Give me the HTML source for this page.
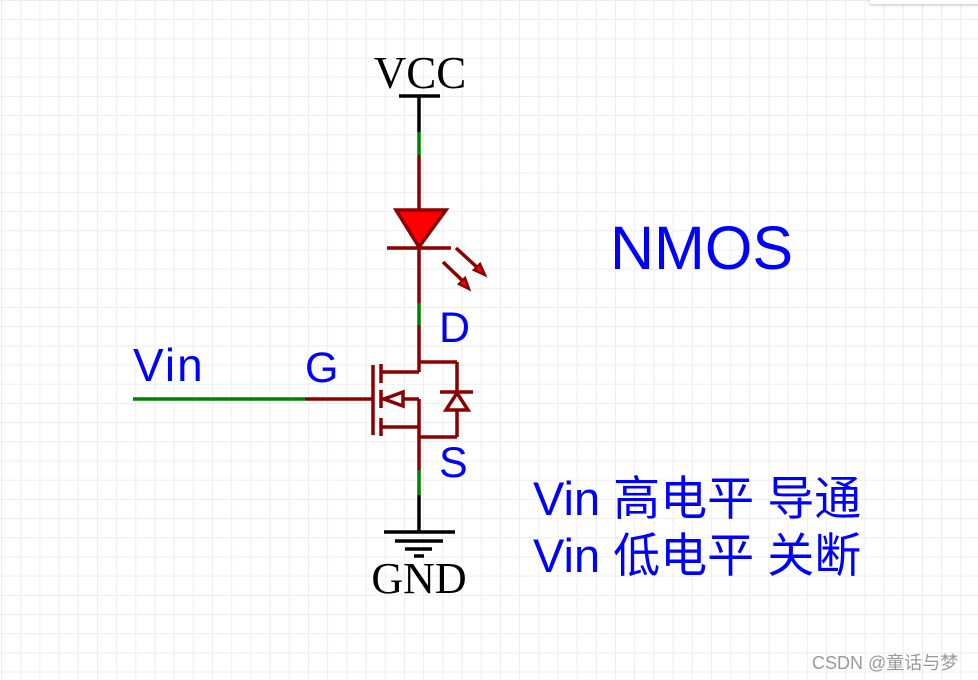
<!DOCTYPE html>
<html><head><meta charset="utf-8"><style>
html,body{margin:0;padding:0;}
body{width:978px;height:680px;overflow:hidden;position:relative;background:#fff;
background-image:linear-gradient(to right,#ededed 1px,transparent 1px),linear-gradient(to bottom,#ededed 1px,transparent 1px);
background-size:19.2px 19.2px;background-position:1px 0px;}
svg{position:absolute;left:0;top:0;}
</style></head><body>
<div style="position:absolute;left:870px;top:-4px;width:110px;height:8px;background:#fff;box-shadow:0 1px 3px rgba(0,0,0,0.25);"></div>
<svg width="978" height="680" viewBox="0 0 978 680">
<g stroke-width="3.5" fill="none" stroke-linecap="butt">
<line x1="399" y1="96" x2="440" y2="96" stroke="#000"/>
<line x1="419" y1="96" x2="419" y2="132" stroke="#000"/>
<line x1="419" y1="132" x2="419" y2="155" stroke="#008000"/>
<line x1="419" y1="155" x2="419" y2="303" stroke="#8b0000"/>
<line x1="419" y1="303" x2="419" y2="325" stroke="#008000"/>
<line x1="419" y1="325" x2="419" y2="372" stroke="#8b0000"/>
<polygon points="396,210 446,210 419,247" fill="#ff0000" stroke="#8b0000"/>
<line x1="387" y1="248" x2="451" y2="248" stroke="#8b0000"/>
<line x1="456" y1="248" x2="480" y2="270" stroke="#8b0000"/>
<polygon points="485,275 474,270 480,264" fill="#ff0000" stroke="#8b0000" stroke-width="2.5"/>
<line x1="443" y1="262" x2="465" y2="283" stroke="#8b0000"/>
<polygon points="469,289 459,284 465,278" fill="#ff0000" stroke="#8b0000" stroke-width="2.5"/>
<line x1="381" y1="372" x2="419" y2="372" stroke="#8b0000"/>
<line x1="419" y1="362" x2="457" y2="362" stroke="#8b0000"/>
<line x1="457" y1="362" x2="457" y2="437" stroke="#8b0000"/>
<line x1="419" y1="437" x2="457" y2="437" stroke="#8b0000"/>
<line x1="373" y1="365" x2="373" y2="435" stroke="#8b0000"/>
<line x1="381" y1="364" x2="381" y2="383" stroke="#8b0000"/>
<line x1="381" y1="390" x2="381" y2="408" stroke="#8b0000"/>
<line x1="381" y1="418" x2="381" y2="436" stroke="#8b0000"/>
<line x1="381" y1="399" x2="419" y2="399" stroke="#8b0000"/>
<line x1="419" y1="399" x2="419" y2="428" stroke="#8b0000"/>
<polygon points="384,399 403,392 403,406" fill="#fff" stroke="#8b0000"/>
<line x1="381" y1="427" x2="419" y2="427" stroke="#8b0000"/>
<line x1="440" y1="392" x2="473" y2="392" stroke="#8b0000"/>
<polygon points="457,393 446,410 468,410" fill="#fff" stroke="#8b0000"/>
<line x1="419" y1="427" x2="419" y2="470" stroke="#8b0000"/>
<line x1="419" y1="470" x2="419" y2="495" stroke="#008000"/>
<line x1="419" y1="495" x2="419" y2="532" stroke="#000"/>
<line x1="384" y1="532" x2="455" y2="532" stroke="#000"/>
<line x1="395" y1="541" x2="443" y2="541" stroke="#000"/>
<line x1="405" y1="549" x2="432" y2="549" stroke="#000"/>
<line x1="414" y1="556" x2="424" y2="556" stroke="#000"/>
<line x1="133" y1="399" x2="305" y2="399" stroke="#008000"/>
<line x1="305" y1="399" x2="373" y2="399" stroke="#8b0000"/>
</g>
<g font-family="Liberation Serif, serif" fill="#000" text-anchor="middle">
<text x="420" y="88" font-size="45">VCC</text>
<text x="419" y="593" font-size="44">GND</text>
</g>
<g font-family="Liberation Sans, sans-serif" font-size="43" fill="#0000ff">
<text x="439" y="342">D</text>
<text x="305" y="382">G</text>
<text x="439" y="477">S</text>
<text x="133" y="381" font-size="46" letter-spacing="2">Vin</text>
<text x="610" y="269" font-size="61">NMOS</text>
</g>
<g font-family="Liberation Sans, 'Noto Sans CJK SC', sans-serif" font-size="47" fill="#0000ff">
<text x="533" y="515">Vin 高电平 导通</text>
<text x="533" y="572">Vin 低电平 关断</text>
</g>
<text x="812" y="669" font-family="Liberation Sans, 'Noto Sans CJK SC', sans-serif" font-size="18" fill="#999">CSDN @童话与梦</text>
</svg>
</body></html>
